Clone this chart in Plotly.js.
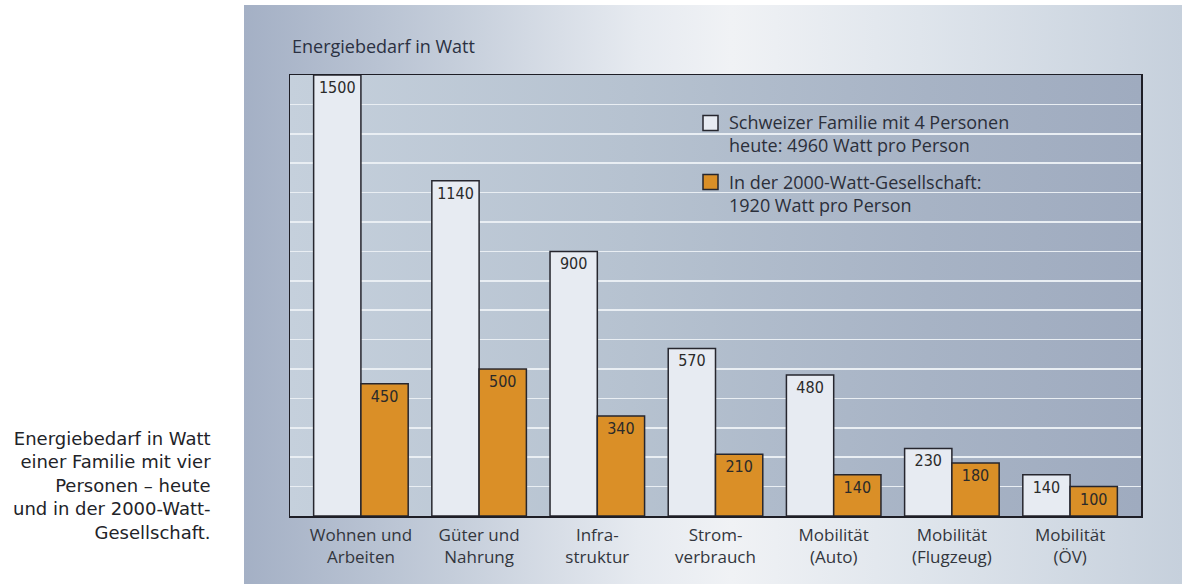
<!DOCTYPE html>
<html><head><meta charset="utf-8">
<script src="https://cdn.plot.ly/plotly-3.0.1.min.js"></script>
<style>
html,body{margin:0;padding:0;background:#ffffff;}
#wrap{position:relative;width:1182px;height:584px;overflow:hidden;}
#panel{position:absolute;left:244px;top:5px;right:0;bottom:0;
 background:linear-gradient(to right,#a4b0c5 0%,#c4cdda 22%,#e6eaf0 42%,#f0f2f5 52%,#dfe5ec 72%,#c6d0dc 100%);}
#plotbg{position:absolute;left:290px;top:75px;width:851px;height:441px;
 background:linear-gradient(to right,#c5d0dc 0%,#b6c2d0 40%,#a7b3c5 75%,#9fabbf 100%);}
#chart{position:absolute;left:0;top:0;width:1182px;height:584px;}
</style></head>
<body>
<div id="wrap"><div id="panel"></div><div id="plotbg"></div><div id="chart"></div></div>
<script>
const categories = ['Wohnen und<br>Arbeiten','Güter und<br>Nahrung','Infra-<br>struktur','Strom-<br>verbrauch','Mobilität<br>(Auto)','Mobilität<br>(Flugzeug)','Mobilität<br>(ÖV)'];
const heute = [1500,1140,900,570,480,230,140];
const gesellschaft = [450,500,340,210,140,180,100];
const seriesNames = ['Schweizer Familie mit 4 Personen<br>heute: 4960 Watt pro Person','In der 2000-Watt-Gesellschaft:<br>1920 Watt pro Person'];
const chartTitle = 'Energiebedarf in Watt';
const caption = 'Energiebedarf in Watt<br>einer Familie mit vier<br>Personen – heute<br>und in der 2000-Watt-<br>Gesellschaft.';

const W = 1182, H = 584, L = 290, R = 41, T = 75, B = 68;
const pw = W - L - R, ph = H - T - B;
const px = x => (x - L) / pw;
const py = y => (H - B - y) / ph;

const WHITE = '#e7ebf2', ORANGE = '#da8f27', EDGE = '#26262e';
const labelFont = {family: '"DejaVu Sans Condensed","Liberation Sans Narrow",sans-serif', size: 16, color: '#2a2a2a'};

const traces = [
  {type:'bar', x: categories, y: heute, name: seriesNames[0],
   marker:{color: WHITE, line:{color: EDGE, width: 1.5}},
   text: heute.map(String), textposition:'inside', insidetextanchor:'end', textangle:0,
   constraintext:'none', insidetextfont: labelFont, hoverinfo:'x+y'},
  {type:'bar', x: categories, y: gesellschaft, name: seriesNames[1],
   marker:{color: ORANGE, line:{color: EDGE, width: 1.5}},
   text: gesellschaft.map(String), textposition:'inside', insidetextanchor:'end', textangle:0,
   constraintext:'none', insidetextfont: labelFont, hoverinfo:'x+y'}
];

const legendFont = {family:'"Open Sans",sans-serif', size:18, color:'#2b2f3a'};

const layout = {
  width: W, height: H,
  margin:{l:L, r:R, t:T, b:B, pad:0},
  paper_bgcolor:'rgba(0,0,0,0)', plot_bgcolor:'rgba(0,0,0,0)',
  showlegend:false,
  barmode:'group', bargap:0.2, bargroupgap:0,
  title:{text: chartTitle, x: 292/W, xanchor:'left', xref:'container', y: 1 - 47/H, yanchor:'middle', yref:'container',
         font:{family:'"Open Sans",sans-serif', size:18, weight:500, color:'#2b3142'}},
  xaxis:{type:'category', range:[-0.6, 6.6], showgrid:false, zeroline:false,
         showline:true, linecolor:'#1e1e26', linewidth:1.5, mirror:true, ticks:'',
         tickfont:{family:'"Open Sans",sans-serif', size:17, color:'#33363d'}, ticklabelstandoff:3},
  yaxis:{range:[0,1500], dtick:100, showgrid:true, gridcolor:'#e9eef3', gridwidth:1.5,
         zeroline:false, showline:true, linecolor:'#1e1e26', linewidth:1.5, mirror:true,
         showticklabels:false, ticks:''},
  shapes:[
    {type:'rect', xref:'paper', yref:'paper', x0:px(703), x1:px(718), y0:py(130.5), y1:py(115.5),
     fillcolor: WHITE, line:{color: EDGE, width:1.5}},
    {type:'rect', xref:'paper', yref:'paper', x0:px(703), x1:px(718), y0:py(189.5), y1:py(174.5),
     fillcolor: ORANGE, line:{color: EDGE, width:1.5}}
  ],
  annotations:[
    {xref:'paper', yref:'paper', x:px(727), y:py(133.5), xanchor:'left', yanchor:'middle', align:'left',
     showarrow:false, text: seriesNames[0], font: legendFont},
    {xref:'paper', yref:'paper', x:px(727), y:py(193.5), xanchor:'left', yanchor:'middle', align:'left',
     showarrow:false, text: seriesNames[1], font: legendFont},
    {xref:'paper', yref:'paper', x:px(213), y:py(485), xanchor:'right', yanchor:'middle', align:'right',
     showarrow:false, text: caption, font:{family:'"DejaVu Sans",sans-serif', size:18, color:'#222328'}}
  ]
};
Plotly.newPlot('chart', traces, layout, {displayModeBar:false, staticPlot:true});
</script>
</body></html>
